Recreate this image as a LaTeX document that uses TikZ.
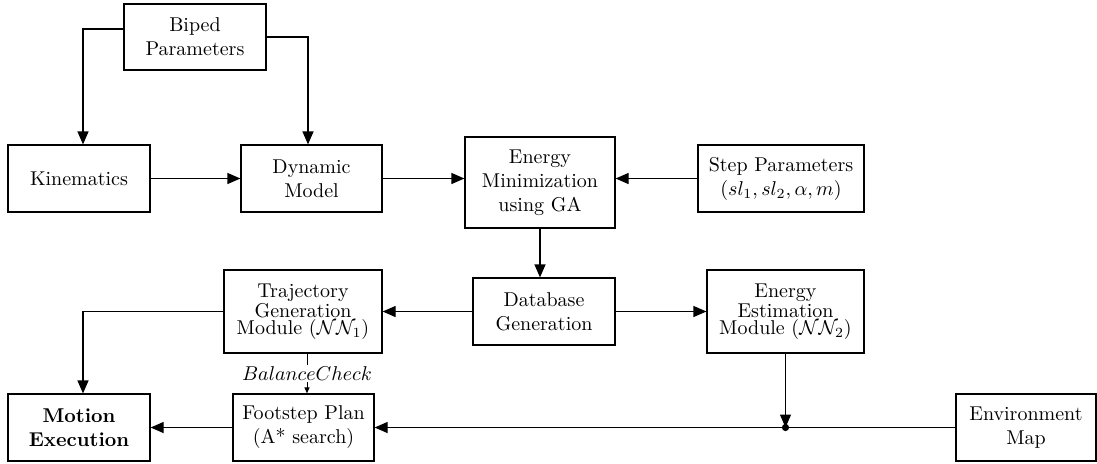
\documentclass[tikz,border=0pt]{standalone}
\usetikzlibrary{arrows.meta,calc}
\begin{document}
\begin{tikzpicture}[x=0.5pt,y=-0.5pt,
  box/.style={draw, line width=0.6pt, align=center, inner sep=1pt},
  arr/.style={line width=0.6pt, -{Triangle[length=6.5pt,width=5.5pt]}},
  smallarr/.style={line width=0.5pt, -{Triangle[length=3pt,width=2.5pt]}},
  tight/.style={font=\linespread{0.72}\selectfont}]
\useasboundingbox (0,0) rectangle (1097,463);
\node[box, minimum width=71pt, minimum height=33pt] (bip) at (195,37) {Biped\\Parameters};
\node[box, minimum width=71pt, minimum height=33.5pt] (kin) at (79,178.5) {Kinematics};
\node[box, minimum width=70.5pt, minimum height=33.5pt] (dyn) at (311.5,178.5) {Dynamic\\Model};
\node[box, minimum width=75pt, minimum height=45.5pt] (emin) at (540,182.5) {Energy\\Minimization\\using GA};
\node[box, minimum width=83pt, minimum height=33.5pt] (step) at (781,178.5) {Step Parameters\\$(sl_1,sl_2,\alpha,m)$};
\node[box, tight, minimum width=79pt, minimum height=41.5pt] (traj) at (303,311.5) {Trajectory\\Generation\\Module $(\mathcal{N}\mathcal{N}_1)$};
\node[box, minimum width=71pt, minimum height=33.5pt] (db) at (544,311.5) {Database\\Generation};
\node[box, tight, minimum width=78.5pt, minimum height=41.5pt] (ee) at (785.5,311.5) {Energy\\Estimation\\Module $(\mathcal{N}\mathcal{N}_2)$};
\node[box, minimum width=71pt, minimum height=33.5pt, font=\bfseries] (mot) at (79,427.5) {Motion\\Execution};
\node[box, minimum width=70.5pt, minimum height=33.5pt] (foot) at (303.5,427.5) {Footstep Plan\\(A* search)};
\node[box, minimum width=70pt, minimum height=33.5pt] (env) at (1026,427.5) {Environment\\Map};
\coordinate (j) at (ee.south |- env.west);
\draw[arr] ([yshift=4pt]bip.west) -| ([xshift=2pt]kin.north);
\draw[arr] (bip.east) -| ([xshift=-1.75pt]dyn.north);
\draw[arr] (kin.east) -- (dyn.west);
\draw[arr] (dyn.east) -- (dyn.east -| emin.west);
\draw[arr] (step.west) -- (step.west -| emin.east);
\draw[arr] (emin.south) -- (emin.south |- db.north);
\draw[arr] (db.west) -- (db.west -| traj.east);
\draw[arr] (db.east) -- (db.east -| ee.west);
\draw[arr] (traj.west) -| ([xshift=2pt]mot.north);
\coordinate (bc) at ($(traj.south)+(4,0)$);
\draw[smallarr] (bc) -- node[fill=white, inner sep=1pt] (bcl) {$BalanceCheck$} (bc |- foot.north);
\draw[arr] (foot.west) -- (mot.east);
\draw[arr] (env.west) -- (foot.east);
\draw[arr] (ee.south) -- (j);
\fill (j) circle (1.8pt);
\end{tikzpicture}
\end{document}
